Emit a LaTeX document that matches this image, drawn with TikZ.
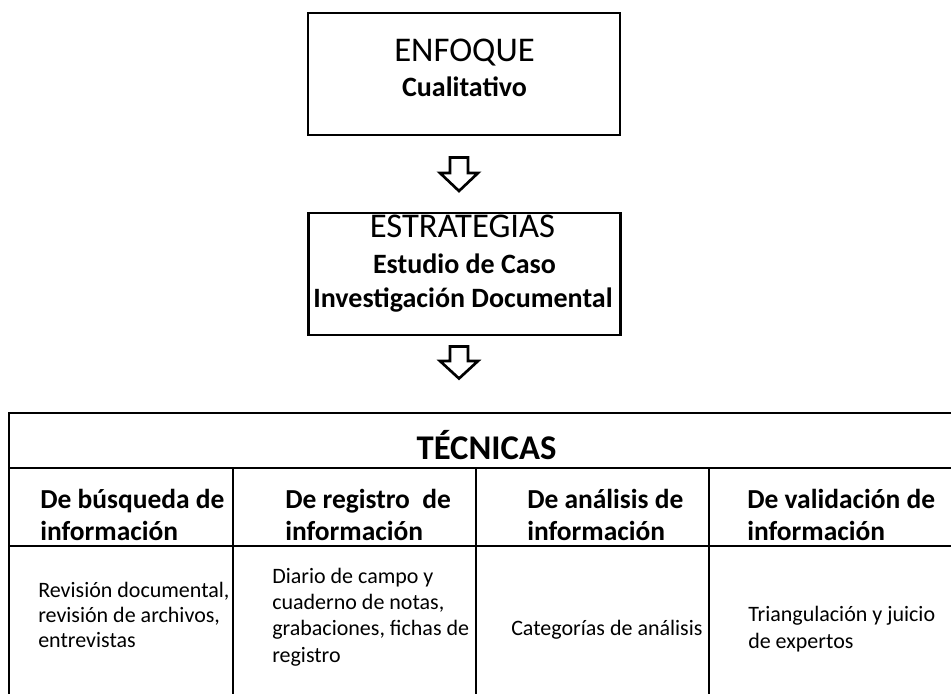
\documentclass[tikz,border=0pt]{standalone}
\usepackage{fontspec}
\setmainfont{Carlito}

\begin{document}
\begin{tikzpicture}[x=0.75pt,y=-0.75pt,
  caja/.style={draw,line width=2.2pt,minimum width=234pt,minimum height=91.5pt,inner sep=0pt},
  flecha/.style={draw,line width=2pt,line join=miter},
  titulo/.style={inner sep=0pt,anchor=base,font=\fontsize{26}{31}\selectfont},
  negrita/.style={inner sep=0pt,anchor=base,font=\fontsize{21}{25}\selectfont\bfseries},
  cabeza/.style={inner sep=0pt,anchor=base west,align=left,font=\fontsize{20.6}{24}\selectfont\bfseries},
  cuerpo/.style={inner sep=0pt,anchor=base west,align=left,font=\fontsize{16.5}{19.7}\selectfont}]
\useasboundingbox (0,0) rectangle (951,694);
\node[caja] (enfoque) at (464,74) {};
\node[titulo] (enfoqueT) at (464.5,61) {ENFOQUE};
\node[negrita] (cualitativo) at (464.5,96) {Cualitativo};
\node[caja] (estrategias) at (464.5,274) {};
\node[titulo] (estrategiasT) at (462.5,237) {ESTRATEGIAS};
\node[negrita] (caso) at (464.5,273) {Estudio de Caso};
\node[negrita] (documental) at (463,307) {Investigación Documental};
\foreach \t/\h/\p in {157.5/173/191,346.5/361/378.5}
  \draw[flecha] (450,\t) -- (468,\t) -- (468,\h) -- (478,\h) -- (459,\p) -- (440,\h) -- (450,\h) -- cycle;
\draw[line width=2.2pt] (951,413) -- (9,413) -- (9,694);
\draw[line width=1.2pt] (9,468) -- (951,468);
\draw[line width=1.2pt] (9,546) -- (951,546);
\draw[line width=1.2pt] (233,468) -- (233,694);
\draw[line width=1.2pt] (476,468) -- (476,694);
\draw[line width=1.2pt] (709,468) -- (709,694);
\node[inner sep=0pt,anchor=base,font=\fontsize{26}{31}\selectfont\bfseries] (tecnicas) at (486.5,459) {TÉCNICAS};
\node[cabeza] (busqueda) at (40,540) {De búsqueda de\\información};
\node[cabeza] (registro) at (285,540) {De registro\ \ de\\información};
\node[cabeza] (analisis) at (527,540) {De análisis de\\información};
\node[cabeza] (validacion) at (747,540) {De validación de\\información};
\node[cuerpo,font=\fontsize{16.5}{18.75}\selectfont] (busquedaT) at (38,647) {Revisión documental,\\revisión de archivos,\\entrevistas};
\node[cuerpo] (registroT) at (272,662) {Diario de campo y\\cuaderno de notas,\\grabaciones, fichas de\\registro};
\node[cuerpo] (analisisT) at (511,635) {Categorías de análisis};
\node[cuerpo] (validacionT) at (748,648) {Triangulación y juicio\\de expertos};
\end{tikzpicture}
\end{document}
